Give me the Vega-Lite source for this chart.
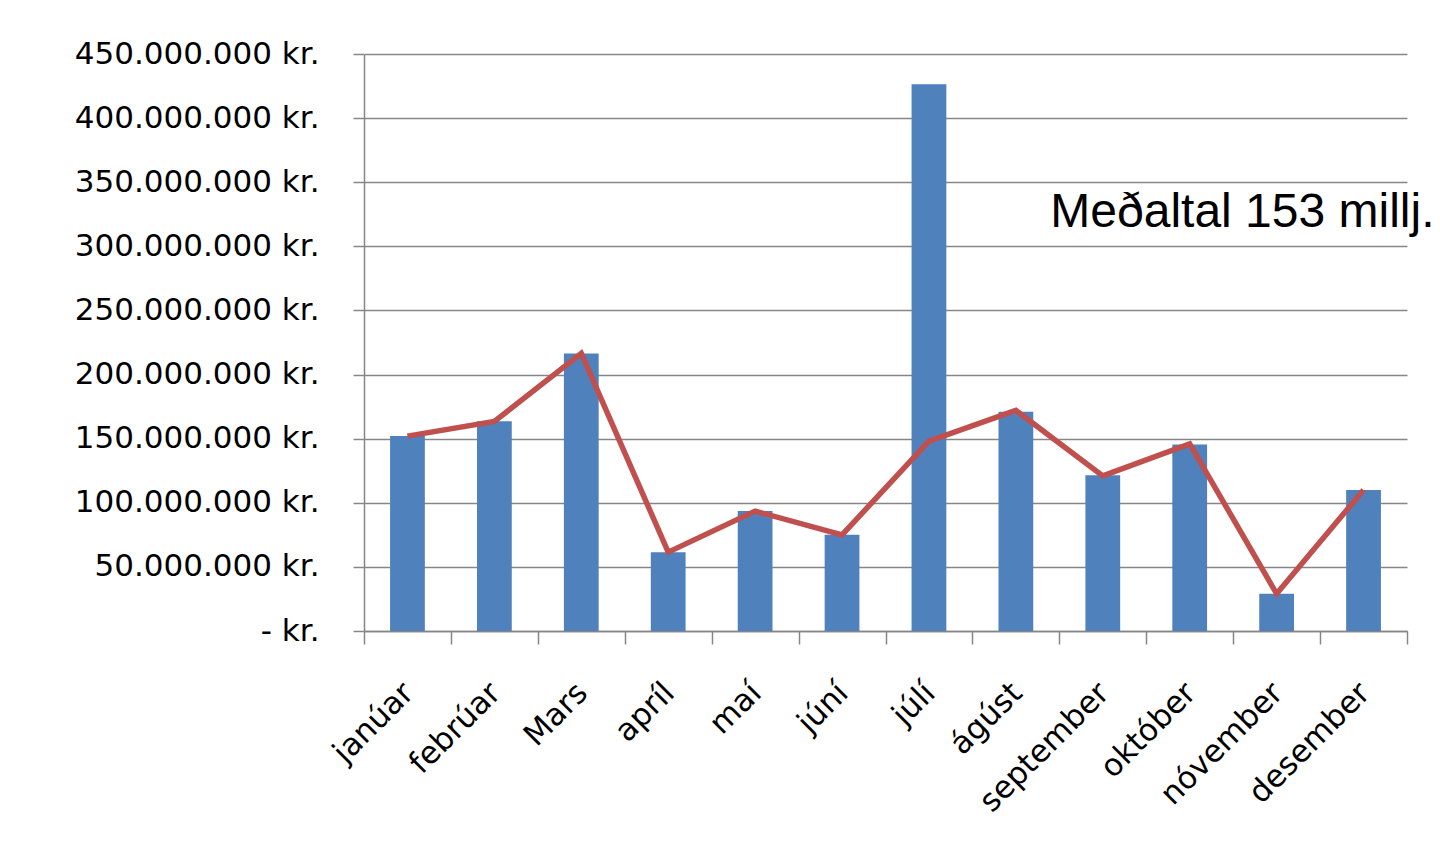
{
  "$schema": "https://vega.github.io/schema/vega-lite/v6.json",
  "autosize": {"type": "none"},
  "width": 1043,
  "height": 577,
  "padding": {"left": 364, "top": 54, "right": 33, "bottom": 236},
  "background": "white",
  "config": {
    "locale": {"number": {"decimal": ",", "thousands": ".", "grouping": [3], "currency": ["", " kr."]}},
    "view": {"stroke": null},
    "font": "DejaVu Sans"
  },
  "data": {
    "values": [
      {"man": "janúar", "upphaed": 152000000, "lina": 152000000},
      {"man": "febrúar", "upphaed": 163500000, "lina": 163500000},
      {"man": "Mars", "upphaed": 216500000, "lina": 216500000},
      {"man": "apríl", "upphaed": 61500000, "lina": 61500000},
      {"man": "maí", "upphaed": 93500000, "lina": 93500000},
      {"man": "júní", "upphaed": 75000000, "lina": 75000000},
      {"man": "júlí", "upphaed": 426500000, "lina": 148000000},
      {"man": "ágúst", "upphaed": 171000000, "lina": 172000000},
      {"man": "september", "upphaed": 121500000, "lina": 121000000},
      {"man": "október", "upphaed": 145500000, "lina": 146000000},
      {"man": "nóvember", "upphaed": 29000000, "lina": 29000000},
      {"man": "desember", "upphaed": 110000000, "lina": 110000000}
    ]
  },
  "layer": [
    {
      "mark": {"type": "bar", "color": "#4F81BD", "width": {"band": 0.4}},
      "encoding": {
        "x": {
          "field": "man", "type": "nominal", "sort": null,
          "scale": {"paddingInner": 0, "paddingOuter": 0},
          "axis": {
            "title": null, "labelAngle": -45, "labelAlign": "right", "labelBaseline": "middle",
            "labelFontSize": 31, "labelFont": "DejaVu Sans", "labelColor": "#000000",
            "labelPadding": 44, "labelOffset": 1, "labelLimit": 400, "tickBand": "extent", "tickSize": 13, "tickColor": "#868686",
            "tickWidth": 1.5, "domainColor": "#868686", "domainWidth": 1.5, "grid": false
          }
        },
        "y": {
          "field": "upphaed", "type": "quantitative",
          "scale": {"domain": [0, 450000000], "nice": false},
          "axis": {
            "title": null, "values": [0, 50000000, 100000000, 150000000, 200000000, 250000000, 300000000, 350000000, 400000000, 450000000],
            "labelExpr": "datum.value == 0 ? '- kr.' : format(datum.value, ',d') + ' kr.'",
            "labelFontSize": 31, "labelFont": "DejaVu Sans", "labelColor": "#000000", "labelLimit": 400,
            "labelPadding": 34, "tickSize": 11, "tickColor": "#868686", "tickWidth": 1.5,
            "domainColor": "#868686", "domainWidth": 1.5,
            "grid": true, "gridColor": "#868686", "gridWidth": 1.5
          }
        }
      }
    },
    {
      "mark": {"type": "line", "color": "#C0504D", "strokeWidth": 5.5, "strokeJoin": "miter"},
      "encoding": {
        "x": {"field": "man", "type": "nominal", "sort": null},
        "y": {"field": "lina", "type": "quantitative"}
      }
    },
    {
      "data": {"values": [{"texti": "Meðaltal 153 millj."}]},
      "mark": {"type": "text", "align": "left", "baseline": "alphabetic", "font": "Liberation Sans", "fontSize": 48, "color": "#000000", "dx": -9},
      "encoding": {
        "x": {"datum": "september", "type": "nominal", "bandPosition": 0},
        "y": {"datum": 315000000, "type": "quantitative"},
        "text": {"field": "texti", "type": "nominal"}
      }
    }
  ]
}
